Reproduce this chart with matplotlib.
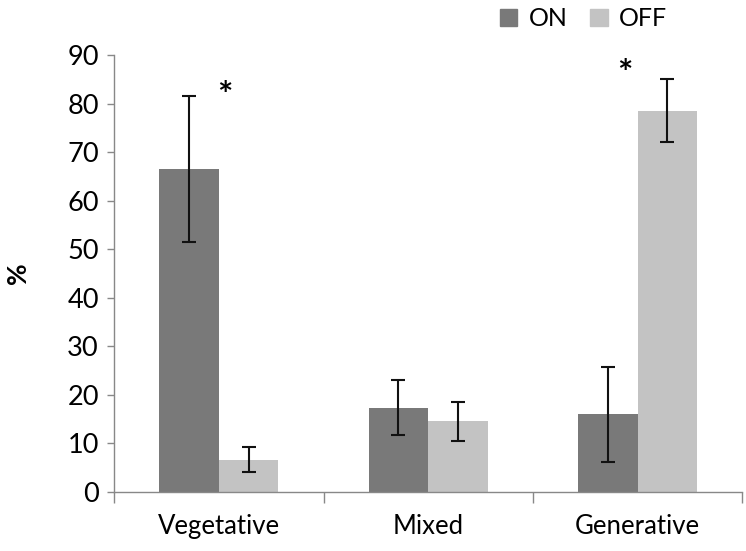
import matplotlib
matplotlib.use("Agg")
import matplotlib.pyplot as plt
import numpy as np
from matplotlib.patches import Patch

plt.rcParams['font.family'] = ['Lato', 'DejaVu Sans']

categories = ["Vegetative", "Mixed", "Generative"]
on_values = [66.5, 17.4, 16.0]
on_errors = [15.1, 5.7, 9.8]
off_values = [6.7, 14.6, 78.5]
off_errors = [2.6, 4.0, 6.5]
series_names = ["ON", "OFF"]
yticks = [0, 10, 20, 30, 40, 50, 60, 70, 80, 90]

fig = plt.figure(figsize=(7.46, 5.51), dpi=100)
ax = fig.add_axes([0.153, 0.107, 0.842, 0.793])

x = np.arange(len(categories))
w = 0.285
c_on = "#797979"
c_off = "#c3c3c3"
ekw = dict(elinewidth=1.5, capthick=1.5, ecolor="#111111")
ax.bar(x - w/2, on_values, w, color=c_on, yerr=on_errors, capsize=5, error_kw=ekw)
ax.bar(x + w/2, off_values, w, color=c_off, yerr=off_errors, capsize=5, error_kw=ekw)

# significance stars
ax.text(x[0] + 0.03, on_values[0] + on_errors[0] - 0.2, "*", ha="center", va="center", fontsize=26, fontweight="bold")
ax.text(x[2] - 0.06, off_values[2] + off_errors[2] + 1.1, "*", ha="center", va="center", fontsize=26, fontweight="bold")

ax.set_ylim(0, 90)
ax.set_xlim(-0.5, 2.5)
ax.set_yticks(yticks)
ax.set_yticklabels([str(t) for t in yticks], fontsize=19.5)
ax.set_xticks(x)
ax.set_xticklabels(categories, fontsize=18.5)
ax.tick_params(axis='x', length=0, pad=16)
ax.set_xticks([-0.5, 0.5, 1.5, 2.5], minor=True)
ax.tick_params(axis='x', which='minor', length=8, color="#888888", width=1)
ax.tick_params(axis='y', length=5, color="#888888", width=1, pad=6)

for s in ["top", "right"]:
    ax.spines[s].set_visible(False)
for s in ["left", "bottom"]:
    ax.spines[s].set_color("#888888")
    ax.spines[s].set_linewidth(1)

ax.set_ylabel("%", fontsize=19, fontweight="bold", labelpad=27)

handles = [Patch(color=c_on), Patch(color=c_off)]
fig.legend(handles, series_names, loc="upper left", bbox_to_anchor=(0.64, 1.028), ncol=2,
           frameon=False, fontsize=18, handlelength=0.7, handleheight=0.7,
           handletextpad=0.45, columnspacing=0.9)

fig.savefig("out.png", dpi=100)
